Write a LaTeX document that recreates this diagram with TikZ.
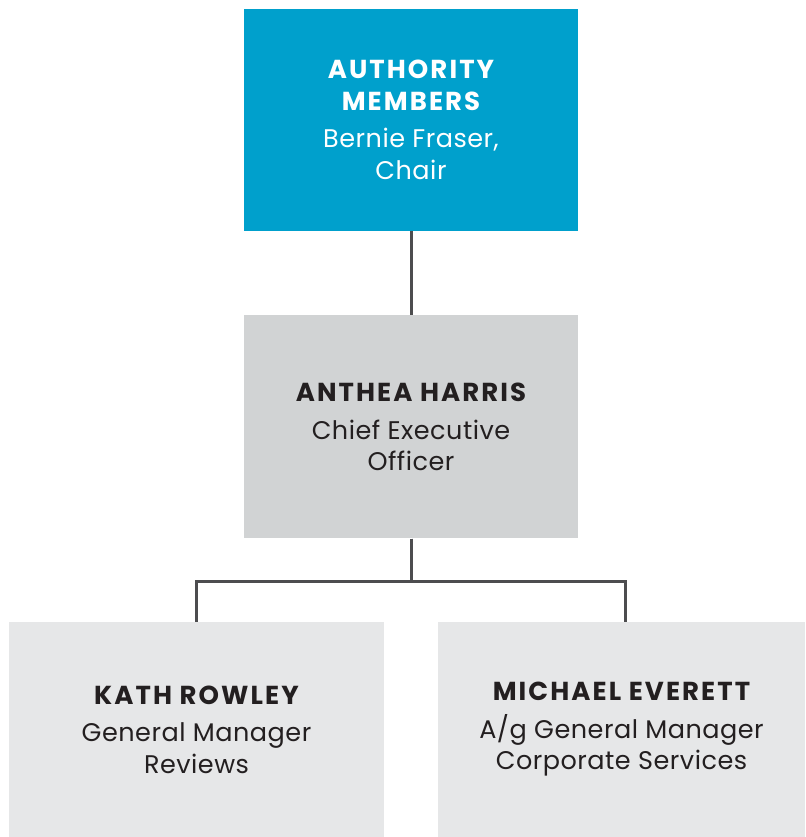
\documentclass[tikz,border=0pt]{standalone}
\usepackage{fontspec}
\setmainfont{Poppins}[LetterSpace=2]
\usetikzlibrary{positioning}
\definecolor{BoardBlue}{RGB}{0,160,204}
\definecolor{ExecGrey}{RGB}{209,211,212}
\definecolor{StaffGrey}{RGB}{230,231,232}
\definecolor{LineGrey}{RGB}{77,77,79}
\definecolor{InkDark}{RGB}{35,31,32}
\newcommand\headname[1]{{\bfseries\fontsize{26}{31.5}\selectfont
  \addfontfeature{LetterSpace=8}#1}}
\tikzset{
  link/.style={line width=3pt,draw=LineGrey},
  orgbox/.style={inner sep=0pt,align=center,
    font=\fontsize{25.5}{31.5}\selectfont},
  boardbox/.style={orgbox,fill=BoardBlue,text=white,
    minimum width=334pt,minimum height=222pt},
  execbox/.style={orgbox,fill=ExecGrey,text=InkDark,
    minimum width=334pt,minimum height=223pt},
  staffbox/.style={orgbox,fill=StaffGrey,text=InkDark,
    minimum height=215pt}
}

\begin{document}
\begin{tikzpicture}[x=1pt,y=1pt,node distance=84pt]
  \useasboundingbox (0,0) rectangle (805,-837);
  \node[boardbox] (board) at (411,-120) {
    \headname{AUTHORITY}\\\headname{MEMBERS}\\[6pt]Bernie Fraser,\\Chair
  };
  \node[execbox,below=of board] (ceo) {
    \headname{ANTHEA HARRIS}\\[6pt]Chief Executive\\Officer
  };
  \node[staffbox,minimum width=375pt] (reviews) at (196.5,-729.5) {
    \headname{KATH ROWLEY}\\[6pt]General Manager\\Reviews
  };
  \node[staffbox,minimum width=367pt] (corporate) at (621.5,-729.5) {
    \headname{MICHAEL EVERETT}\\[6pt]A/g General Manager\\Corporate Services
  };
  \draw[link] (board) -- (ceo);
  \draw[link] (ceo.south) -- ++(0,-43) -| (reviews.north);
  \draw[link] (ceo.south) -- ++(0,-43) -| ([xshift=3.5pt]corporate.north);
\end{tikzpicture}
\end{document}
